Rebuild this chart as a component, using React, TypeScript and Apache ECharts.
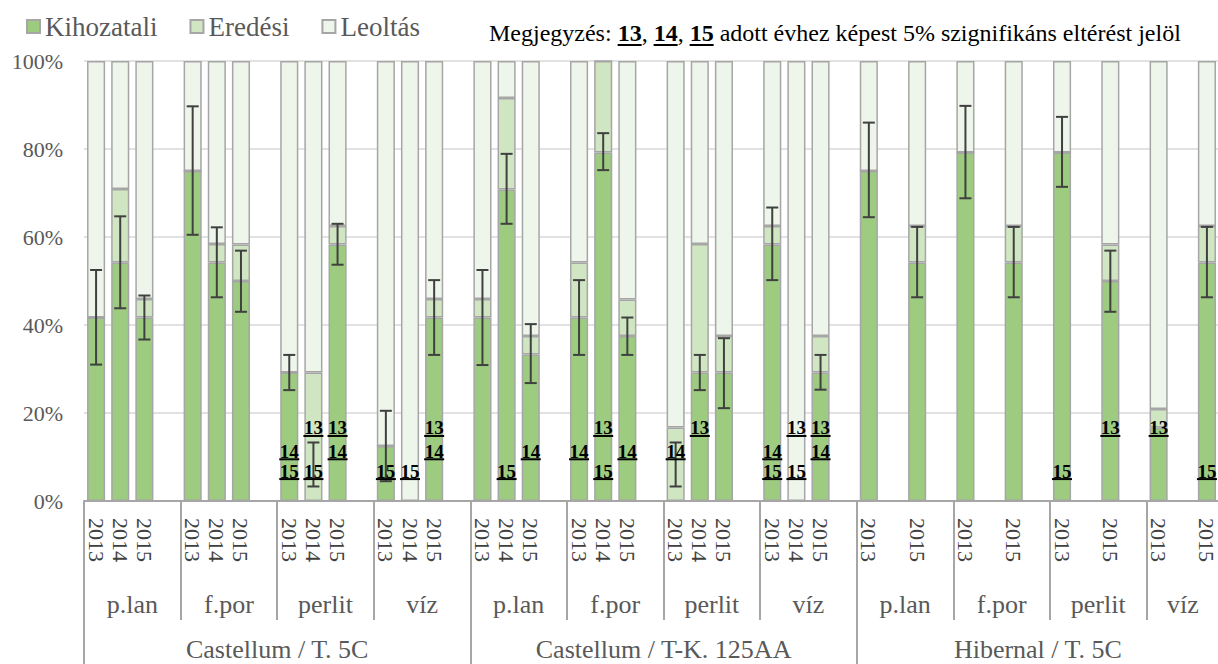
import React, { useEffect, useRef } from 'react';
import * as echarts from 'echarts';

const groups = ['Castellum / T. 5C', 'Castellum / T-K. 125AA', 'Hibernal / T. 5C'];
const substrates = ['p.lan', 'f.por', 'perlit', 'víz'];
const yearsPerGroup = [
  ['2013', '2014', '2015'],
  ['2013', '2014', '2015'],
  ['2013', '', '2015'],
];
const seriesNames = ['Kihozatali', 'Eredési', 'Leoltás'];

// per group: p.lan(13,14,15), f.por(13,14,15), perlit(13,14,15), víz(13,14,15)
const kihozatali = [
  [41.7, 54.2, 41.7, 75, 54.2, 50, 29.2, 0, 58.3, 12.5, 0, 41.7],
  [41.7, 70.8, 33.3, 41.7, 79.2, 37.5, 0, 29.2, 29.2, 58.3, 0, 29.2],
  [75, null, 54.2, 79.2, null, 54.2, 79.2, null, 50, 16.7, null, 54.2],
];
const eredesi = [
  [0, 16.7, 4.2, 0, 4.2, 8.3, 0, 29.2, 4.2, 0, 0, 4.2],
  [4.2, 20.8, 4.2, 12.5, 20.8, 8.3, 16.7, 29.2, 8.3, 4.2, 0, 8.3],
  [0, null, 8.3, 0, null, 8.3, 0, null, 8.3, 4.2, null, 8.3],
];
const leoltas = [
  [58.3, 29.1, 54.1, 25, 41.6, 41.7, 70.8, 70.8, 37.5, 87.5, 100, 54.1],
  [54.1, 8.4, 62.5, 45.8, 0, 54.2, 83.3, 41.6, 62.5, 37.5, 100, 62.5],
  [25, null, 37.5, 20.8, null, 37.5, 20.8, null, 41.7, 79.1, null, 37.5],
];
const errLow = [
  [31, 43.8, 36.7, 60.5, 46.3, 43, 25.2, 3.3, 53.7, 4.5, null, 33.2],
  [30.9, 63, 26.8, 33.2, 75.2, 33.2, 3.3, 25.2, 21.1, 50.2, null, 25.3],
  [64.5, null, 46.3, 68.8, null, 46.3, 71.4, null, 43, null, null, 46.3],
];
const errHigh = [
  [52.5, 64.7, 46.7, 89.7, 62.2, 56.9, 33.2, 13.3, 63, 20.5, null, 50.2],
  [52.5, 78.9, 40.2, 50.2, 83.6, 41.7, 13.3, 33.2, 37, 66.7, null, 33.2],
  [86, null, 62.3, 89.8, null, 62.3, 87.3, null, 56.9, null, null, 62.3],
];
// significance marks (13 / 14 / 15)
const marks = [
  ['', '', '', '', '', '', '14 15', '13 15', '13 14', '15', '15', '13 14'],
  ['', '15', '14', '14', '13 15', '14', '14', '13', '', '14 15', '13 15', '13 14'],
  ['', '', '', '', '', '', '15', '', '13', '13', '', '15'],
];
const yTicks = { min: 0, max: 100, step: 20 };
const noteParts = [
  { t: 'Megjegyzés: ', b: false },
  { t: '13', b: true },
  { t: ', ', b: false },
  { t: '14', b: true },
  { t: ', ', b: false },
  { t: '15', b: true },
  { t: ' adott évhez képest 5% szignifikáns eltérést jelöl', b: false },
];

const FONT = 'Liberation Serif, Times New Roman, serif';
const COLORS = ['#9DCB80', '#D0E6C2', '#EEF5EA'];
const BORDER = '#A6A6A6';

let measureCtx: CanvasRenderingContext2D | null = null;
function measure(text: string, font: string): number {
  if (!measureCtx) measureCtx = document.createElement('canvas').getContext('2d');
  measureCtx!.font = font;
  return measureCtx!.measureText(text).width;
}

function buildOption() {
  const categories: string[] = [];
  const barSlot: number[][] = [];
  const segs: { start: number; end: number; g: number; s: number }[] = [];
  groups.forEach((_, g) => {
    barSlot.push([]);
    substrates.forEach((_, s) => {
      const start = categories.length;
      yearsPerGroup[g].forEach((yr) => {
        barSlot[g].push(categories.length);
        categories.push(yr);
      });
      if (!(g === groups.length - 1 && s === substrates.length - 1)) categories.push('');
      segs.push({ start, end: categories.length, g, s });
    });
  });
  const nSlots = categories.length;

  const mk = (src: (number | null)[][]) => {
    const arr: (number | null)[] = new Array(nSlots).fill(null);
    src.forEach((row, g) => row.forEach((v, k) => { arr[barSlot[g][k]] = v; }));
    return arr;
  };

  // half-slot axes
  const nHalf = nSlots * 2 + 1;
  const subData: string[] = new Array(nHalf).fill('');
  const subBounds = new Set<number>();
  segs.forEach((sg) => {
    subData[sg.start + sg.end] = substrates[sg.s];
    subBounds.add(sg.start * 2);
    subBounds.add(sg.end * 2);
  });
  const grpData: string[] = new Array(nHalf).fill('');
  const grpBounds = new Set<number>();
  groups.forEach((name, g) => {
    const start = barSlot[g][0];
    const end = g + 1 < groups.length ? barSlot[g + 1][0] : nSlots;
    grpData[start + end] = name;
    grpBounds.add(start * 2);
    grpBounds.add(end * 2);
  });

  const errData: number[][] = [];
  errLow.forEach((row, g) => row.forEach((lo, k) => {
    const hi = errHigh[g][k];
    if (lo != null && hi != null) errData.push([barSlot[g][k], lo, hi]);
  }));

  const rowValue: Record<string, number> = { '13': 16.6, '14': 11.3, '15': 6.8 };
  const markData: number[][] = [];
  const markTexts: string[] = [];
  marks.forEach((row, g) => row.forEach((m, k) => {
    if (!m) return;
    m.split(' ').forEach((code) => {
      markData.push([barSlot[g][k], rowValue[code]]);
      markTexts.push(code);
    });
  }));

  const markFontSize = 19;
  const markFont = `bold ${markFontSize}px "Liberation Serif"`;

  // note graphic
  const noteFontSize = 24;
  const noteChildren: any[] = [];
  let cx = 0;
  noteParts.forEach((p) => {
    const f = `${p.b ? 'bold ' : ''}${noteFontSize}px "Liberation Serif"`;
    const w = measure(p.t, f);
    noteChildren.push({
      type: 'text', x: cx, y: 0,
      style: { text: p.t, fontSize: noteFontSize, fontFamily: FONT, fontWeight: p.b ? 'bold' : 'normal', fill: '#000', align: 'left', verticalAlign: 'middle' },
    });
    if (p.b) {
      noteChildren.push({ type: 'line', shape: { x1: cx, y1: 12, x2: cx + w, y2: 12 }, style: { stroke: '#000', lineWidth: 2 } });
    }
    cx += w;
  });

  const barSeries = [kihozatali, eredesi, leoltas].map((src, i) => ({
    name: seriesNames[i],
    type: 'bar',
    stack: 'total',
    barCategoryGap: '25%',
    data: mk(src),
    itemStyle: { color: COLORS[i], borderColor: BORDER, borderWidth: 1.5 },
    z: 2,
  }));

  return {
    animation: false,
    textStyle: { fontFamily: FONT },
    grid: { left: 84, top: 61, width: 1135, height: 440, containLabel: false, outerBoundsMode: 'none' },
    legend: {
      data: seriesNames,
      left: 26, top: 13, padding: 0,
      icon: 'rect', itemWidth: 13, itemHeight: 13, itemGap: 32,
      selectedMode: false,
      textStyle: { fontFamily: FONT, fontSize: 27, color: '#595959' },
    },
    graphic: [
      { type: 'group', x: 489, y: 33, children: noteChildren },
    ],
    xAxis: [
      {
        type: 'category', data: categories, position: 'bottom',
        axisLine: { lineStyle: { color: BORDER, width: 2 } },
        axisTick: { show: false },
        axisLabel: { interval: 0, rotate: -90, margin: 17, fontSize: 22, fontFamily: FONT, color: '#404040' },
      },
      {
        type: 'category', data: subData, boundaryGap: false, position: 'bottom',
        axisLine: { show: false },
        axisTick: { show: true, interval: (i: number) => subBounds.has(i), length: 119, lineStyle: { color: BORDER, width: 2 } },
        axisLabel: { interval: (i: number, v: string) => v !== '', margin: 90, fontSize: 26, fontFamily: FONT, color: '#595959' },
        splitLine: { show: false },
      },
      {
        type: 'category', data: grpData, boundaryGap: false, position: 'bottom',
        axisLine: { show: false },
        axisTick: { show: true, interval: (i: number) => grpBounds.has(i), length: 180, lineStyle: { color: BORDER, width: 2 } },
        axisLabel: { interval: (i: number, v: string) => v !== '', margin: 135, fontSize: 26, fontFamily: FONT, color: '#595959' },
        splitLine: { show: false },
      },
    ],
    yAxis: {
      type: 'value', min: yTicks.min, max: yTicks.max, interval: yTicks.step,
      axisLine: { show: false }, axisTick: { show: false },
      axisLabel: { formatter: '{value}%', fontSize: 22, fontFamily: FONT, color: '#595959', margin: 21 },
      splitLine: { lineStyle: { color: '#D9D9D9', width: 1.5 } },
    },
    series: [
      ...barSeries,
      {
        type: 'custom',
        data: errData,
        encode: { x: 0, y: [1, 2] },
        z: 5,
        renderItem: (params: any, api: any) => {
          const x = api.value(0);
          const lo = api.coord([x, api.value(1)]);
          const hi = api.coord([x, api.value(2)]);
          const cap = 6;
          const st = { stroke: '#404040', lineWidth: 2 };
          return {
            type: 'group',
            children: [
              { type: 'line', shape: { x1: lo[0], y1: lo[1], x2: hi[0], y2: hi[1] }, style: st },
              { type: 'line', shape: { x1: lo[0] - cap, y1: lo[1], x2: lo[0] + cap, y2: lo[1] }, style: st },
              { type: 'line', shape: { x1: hi[0] - cap, y1: hi[1], x2: hi[0] + cap, y2: hi[1] }, style: st },
            ],
          };
        },
      },
      {
        type: 'custom',
        data: markData,
        encode: { x: 0, y: 1 },
        z: 6,
        renderItem: (params: any, api: any) => {
          const p = api.coord([api.value(0), api.value(1)]);
          const txt = markTexts[params.dataIndex];
          const w = measure(txt, markFont);
          return {
            type: 'group',
            children: [
              {
                type: 'text', x: p[0], y: p[1],
                style: { text: txt, fontSize: markFontSize, fontWeight: 'bold', fontFamily: FONT, fill: '#000', align: 'center', verticalAlign: 'middle' },
              },
              { type: 'line', shape: { x1: p[0] - w / 2 - 0.5, y1: p[1] + 8, x2: p[0] + w / 2 + 0.5, y2: p[1] + 8 }, style: { stroke: '#000', lineWidth: 2 } },
            ],
          };
        },
      },
    ],
  };
}

export default function App() {
  const ref = useRef<HTMLDivElement>(null);
  useEffect(() => {
    if (!ref.current) return;
    const chart = echarts.init(ref.current, null, { renderer: 'svg' });
    chart.setOption(buildOption() as any);
    return () => chart.dispose();
  }, []);
  return (
    <div
      ref={ref}
      style={{ position: 'absolute', left: 0, top: 0, width: 1218, height: 664, background: '#fff' }}
    />
  );
}
